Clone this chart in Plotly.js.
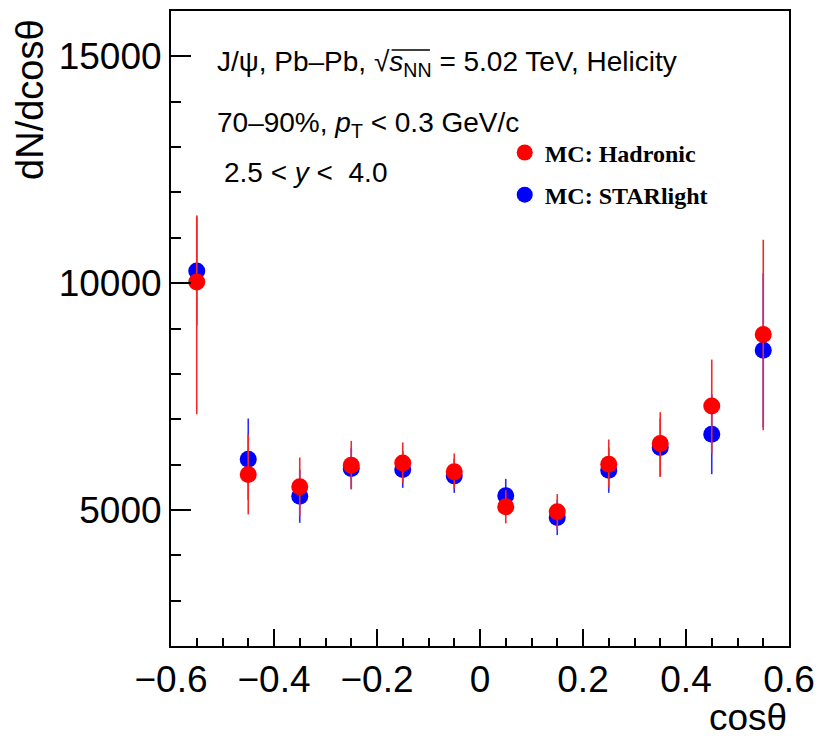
<!DOCTYPE html>
<html>
<head>
<meta charset="utf-8">
<script src="https://cdn.plot.ly/plotly-3.0.1.min.js"></script>
<style>
  html, body { margin: 0; padding: 0; background: #ffffff; }
  #chart { width: 821px; height: 740px; }
</style>
</head>
<body>
<div id="chart"></div>
<script>
// cos(theta) bin centres (bin width 0.1)
const cosTheta = [-0.55, -0.45, -0.35, -0.25, -0.15, -0.05, 0.05, 0.15, 0.25, 0.35, 0.45, 0.55];

// MC: Hadronic — dN/dcos(theta) with asymmetric uncertainties
const hadronic        = [10024, 5782, 5509, 5987, 6037, 5839, 5068, 4958, 6009, 6465, 7293, 8866];
const hadronicErrUp   = [1469, 881, 647, 535, 450, 405, 368, 390, 544, 689, 1022, 2091];
const hadronicErrDown = [2914, 881, 647, 535, 451, 366, 365, 403, 513, 736, 1049, 2108];

// MC: STARlight — dN/dcos(theta) with symmetric uncertainties
const starlight    = [10267, 6119, 5304, 5914, 5892, 5751, 5311, 4835, 5877, 6377, 6670, 8520];
const starlightErr = [1200, 896, 588, 450, 405, 374, 374, 390, 500, 640, 881, 1700];

// Axis ticks
const xTickVals = [-0.6, -0.4, -0.2, 0, 0.2, 0.4, 0.6];
const xTickText = ['\u22120.6', '\u22120.4', '\u22120.2', '0', '0.2', '0.4', '0.6'];
const yTickVals = [5000, 10000, 15000];
const yTickText = ['5000', '10000', '15000'];

const SANS = 'Liberation Sans, Arial, Helvetica, sans-serif';
const SERIF = 'Liberation Serif, Times New Roman, serif';

const traces = [
  {
    name: 'MC: STARlight',
    x: cosTheta,
    y: starlight,
    type: 'scatter',
    mode: 'markers',
    legendgroup: 'b',
    legendrank: 2,
    marker: { color: '#0000ff', size: 17, line: { width: 0 } },
    error_y: {
      type: 'data', symmetric: true, array: starlightErr,
      color: '#2a2aff', thickness: 1.6, width: 0
    }
  },
  {
    name: 'MC: Hadronic',
    x: cosTheta,
    y: hadronic,
    type: 'scatter',
    mode: 'markers',
    legendgroup: 'a',
    legendrank: 1,
    marker: { color: '#ff0000', size: 17, line: { width: 0 } },
    error_y: {
      type: 'data', symmetric: false, array: hadronicErrUp, arrayminus: hadronicErrDown,
      color: '#f22a2a', thickness: 1.6, width: 0
    }
  }
];

const axisCommon = {
  showgrid: false,
  zeroline: false,
  showline: true,
  linecolor: '#000000',
  linewidth: 2,
  mirror: true,
  ticks: 'inside',
  tickcolor: '#000000',
  tickwidth: 2,
  tickfont: { family: SANS, size: 37, color: '#000000' }
};

const layout = {
  width: 821,
  height: 740,
  paper_bgcolor: '#ffffff',
  plot_bgcolor: '#ffffff',
  margin: { l: 171, r: 32, t: 11, b: 94 },
  showlegend: true,
  legend: {
    x: 0.54, y: 0.812, xanchor: 'left', yanchor: 'top',
    bgcolor: 'rgba(0,0,0,0)',
    font: { family: SERIF, size: 24, color: '#000000', weight: 'bold' },
    tracegroupgap: 8,
    itemwidth: 30
  },
  xaxis: Object.assign({}, axisCommon, {
    range: [-0.6, 0.6],
    tickmode: 'array',
    tickvals: xTickVals,
    ticktext: xTickText,
    ticklen: 17,
    minor: { dtick: 0.05, tick0: 0, ticks: 'inside', ticklen: 8, tickwidth: 2, tickcolor: '#000000', showgrid: false }
  }),
  yaxis: Object.assign({}, axisCommon, {
    range: [2000, 16000],
    tickmode: 'array',
    tickvals: yTickVals,
    ticktext: yTickText,
    ticklen: 20,
    minor: { dtick: 1000, tick0: 0, ticks: 'inside', ticklen: 10, tickwidth: 2, tickcolor: '#000000', showgrid: false }
  }),
  // bar of the square-root sign over s_NN
  shapes: [
    {
      type: 'line', xref: 'paper', yref: 'paper',
      x0: 0.357, x1: 0.419, y0: 0.9386, y1: 0.9386,
      line: { color: '#000000', width: 1.3 }
    }
  ],
  annotations: [
    {
      text: 'dN/dcos\u03b8',
      xref: 'paper', yref: 'paper',
      x: -0.228, y: 0.99, xanchor: 'center', yanchor: 'top',
      textangle: -90, showarrow: false,
      font: { family: SANS, size: 38, color: '#000000' }
    },
    {
      text: 'cos\u03b8',
      xref: 'paper', yref: 'paper',
      x: 1.0, y: -0.113, xanchor: 'right', yanchor: 'middle',
      showarrow: false,
      font: { family: SANS, size: 37, color: '#000000' }
    },
    {
      text: 'J/\u03c8, Pb\u2013Pb, \u221a<i>s</i><sub>NN</sub> = 5.02 TeV, Helicity',
      xref: 'paper', yref: 'paper',
      x: 0.0712, y: 0.918, xanchor: 'left', yanchor: 'middle',
      showarrow: false,
      font: { family: SANS, size: 28, color: '#000000' }
    },
    {
      text: '70\u201390%, <i>p</i><sub>T</sub> &lt; 0.3 GeV/c',
      xref: 'paper', yref: 'paper',
      x: 0.0712, y: 0.822, xanchor: 'left', yanchor: 'middle',
      showarrow: false,
      font: { family: SANS, size: 28, color: '#000000' }
    },
    {
      text: '2.5 &lt; <i>y</i> &lt;  4.0',
      xref: 'paper', yref: 'paper',
      x: 0.0825, y: 0.745, xanchor: 'left', yanchor: 'middle',
      showarrow: false,
      font: { family: SANS, size: 28, color: '#000000' }
    }
  ]
};

Plotly.newPlot('chart', traces, layout, { staticPlot: true, displayModeBar: false });
</script>
</body>
</html>
